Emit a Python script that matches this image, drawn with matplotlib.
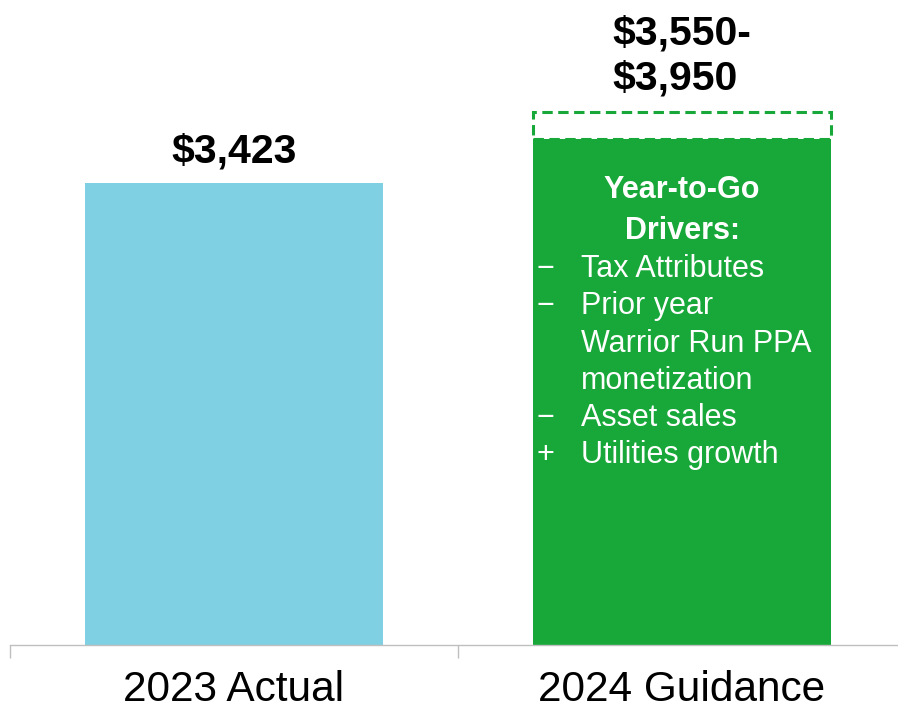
import matplotlib.pyplot as plt
from matplotlib.patches import Rectangle

plt.rcParams["font.family"] = ["Liberation Sans", "DejaVu Sans"]

categories = ["2023 Actual", "2024 Guidance"]
actual_2023 = 3423
guidance_low = 3550
guidance_high = 3950
bar_labels = ["$3,423", "$3,550-\n$3,950"]
driver_header = ["Year-to-Go", "Drivers:"]
driver_lines = [
    ("\u2212", "Tax Attributes"),
    ("\u2212", "Prior year"),
    ("", "Warrior Run PPA"),
    ("", "monetization"),
    ("\u2212", "Asset sales"),
    ("+", "Utilities growth"),
]

BLUE = "#7FD0E3"
GREEN = "#17A839"
GREY = "#BFBFBF"
WIDTH = 0.667

# guidance bar is drawn up to the midpoint, dashed box covers the rest
guidance_mid = (guidance_low + guidance_high) / 2

fig = plt.figure(figsize=(8.98, 7.10), dpi=100)
ax = fig.add_axes([10 / 898, 65 / 710, 896 / 898, 645 / 710])

ax.bar([0], [actual_2023], width=WIDTH, color=BLUE, zorder=2)
ax.bar([1], [guidance_mid], width=WIDTH, color=GREEN, zorder=2)
ax.add_patch(Rectangle((1 - WIDTH / 2, guidance_mid), WIDTH,
                       guidance_high - guidance_mid, fill=False,
                       edgecolor=GREEN, lw=2.2, ls=(0, (3.4, 1.8)), zorder=1))

ax.set_xlim(-0.5, 1.5)
ax.set_ylim(0, 4779)

ax.annotate(bar_labels[0], (0, actual_2023), xytext=(0, 15),
            textcoords="offset points", ha="center", va="baseline",
            fontsize=29.5, fontweight="bold")
ax.annotate(bar_labels[1], (1, guidance_high), xytext=(0, 16),
            textcoords="offset points", ha="center", va="baseline",
            multialignment="left", linespacing=1.25,
            fontsize=29.5, fontweight="bold")

# text block inside the green bar, offsets in points below the bar top
for i, line in enumerate(driver_header):
    ax.annotate(line, (1, guidance_mid), xytext=(0, -(42.5 + 29.5 * i)),
                textcoords="offset points", ha="center", va="baseline",
                fontsize=22, fontweight="bold", color="white")
for i, (sign, text) in enumerate(driver_lines):
    dy = -(99.5 + 26.8 * i)
    ax.annotate(sign, (1 - WIDTH / 2, guidance_mid), xytext=(3, dy),
                textcoords="offset points", ha="left", va="baseline",
                fontsize=22, color="white")
    ax.annotate(text, (1 - WIDTH / 2, guidance_mid), xytext=(35, dy),
                textcoords="offset points", ha="left", va="baseline",
                fontsize=22, color="white")

for side in ["top", "right", "left"]:
    ax.spines[side].set_visible(False)
ax.spines["bottom"].set_color(GREY)
ax.spines["bottom"].set_linewidth(1)
ax.set_yticks([])
ax.set_xticks([0, 1])
ax.set_xticklabels(categories, fontsize=30.5)
ax.tick_params(axis="x", which="major", length=0, pad=18)
ax.set_xticks([-0.5, 0.5, 1.5], minor=True)
ax.tick_params(axis="x", which="minor", length=9, width=1, color=GREY)

fig.savefig("out.png", dpi=100)
